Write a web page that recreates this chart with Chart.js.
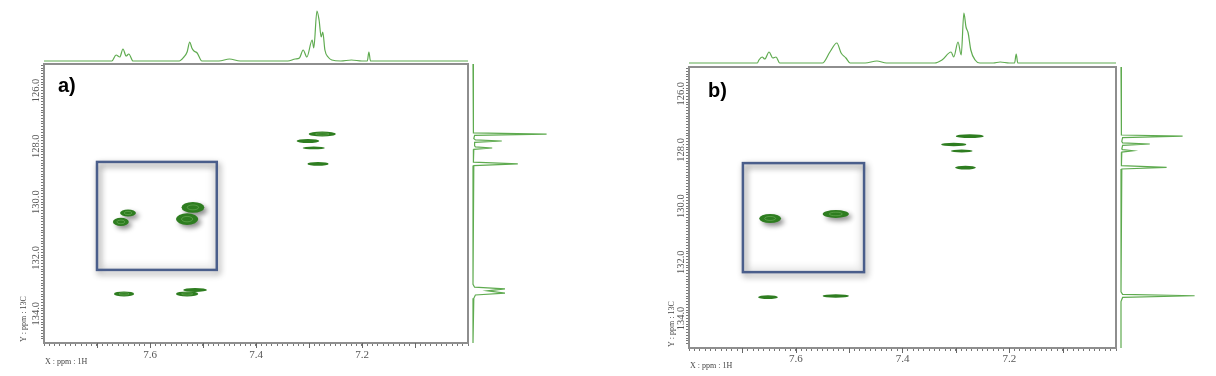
<!DOCTYPE html>
<html>
<head>
<meta charset="utf-8">
<title>HSQC a) b)</title>
<script src="https://cdn.jsdelivr.net/npm/chart.js@4.4.0/dist/chart.umd.min.js"></script>
<style>
    html, body { margin: 0; padding: 0; background: #fff; }
    #wrap { position: relative; width: 1216px; height: 376px; overflow: hidden; }
    #wrap canvas { position: absolute; left: 0; top: 0; }
</style>
</head>
<body>
<div id="wrap">
    <canvas id="mainA" width="1216" height="376"></canvas>
    <canvas id="topA" width="1216" height="376"></canvas>
    <canvas id="rightA" width="1216" height="376"></canvas>
    <canvas id="mainB" width="1216" height="376"></canvas>
    <canvas id="topB" width="1216" height="376"></canvas>
    <canvas id="rightB" width="1216" height="376"></canvas>
</div>
<script>
/* 2D HSQC (1H x 13C) spectra, panels a) and b) */

var xLabelValues = [7.6, 7.4, 7.2];
var yLabelValues = [126, 128, 130, 132, 134];

// panel a cross peaks: 1H ppm, 13C ppm, linewidths (ppm)
var peaksA_H  = [7.6415, 7.655, 7.519, 7.530, 7.649, 7.515, 7.530, 7.275, 7.302, 7.291, 7.283];
var peaksA_C  = [130.39, 130.71, 130.19, 130.61, 133.29, 133.15, 133.29, 127.56, 127.81, 128.06, 128.63];
var peaksA_dH = [0.030, 0.030, 0.043, 0.042, 0.038, 0.045, 0.042, 0.051, 0.043, 0.042, 0.040];
var peaksA_dC = [0.25, 0.29, 0.39, 0.43, 0.18, 0.14, 0.18, 0.18, 0.15, 0.10, 0.13];

// panel b cross peaks
var peaksB_H  = [7.648, 7.525, 7.652, 7.525, 7.274, 7.304, 7.289, 7.282];
var peaksB_C  = [130.44, 130.28, 133.24, 133.20, 127.51, 127.81, 128.04, 128.63];
var peaksB_dH = [0.041, 0.049, 0.037, 0.049, 0.052, 0.047, 0.041, 0.039];
var peaksB_dC = [0.32, 0.28, 0.14, 0.12, 0.14, 0.12, 0.11, 0.14];

// 1H projection (top), relative intensity
var topA_ppm = [7.80, 7.70, 7.672, 7.664, 7.657, 7.651, 7.645, 7.640, 7.632, 7.60, 7.545, 7.536, 7.530, 7.525, 7.521, 7.517, 7.511, 7.502, 7.47, 7.45, 7.43, 7.34, 7.326, 7.318, 7.311, 7.304, 7.294, 7.291, 7.285, 7.281, 7.277, 7.274, 7.270, 7.264, 7.257, 7.24, 7.22, 7.20, 7.190, 7.187, 7.184, 7.0];
var topA_int = [0, 0, 0, 12, 8, 24, 10, 14, 0, 0, 0, 8, 18, 38, 26, 20, 16, 0, 0, 4, 0, 0, 4, 6, 22, 8, 42, 26, 100, 82, 48, 58, 22, 8, 2, 0, 2, 0, 0, 18, 0, 0];
var topB_ppm = [7.80, 7.672, 7.669, 7.663, 7.658, 7.650, 7.643, 7.637, 7.630, 7.55, 7.536, 7.523, 7.515, 7.506, 7.498, 7.47, 7.448, 7.43, 7.34, 7.326, 7.309, 7.304, 7.296, 7.290, 7.285, 7.281, 7.277, 7.272, 7.264, 7.255, 7.23, 7.217, 7.20, 7.190, 7.187, 7.184, 7.0];
var topB_int = [0, 0, 6, 12, 8, 22, 10, 12, 0, 0, 22, 40, 20, 10, 0, 0, 4, 0, 0, 6, 22, 12, 42, 16, 100, 72, 60, 26, 6, 0, 0, 2, 0, 0, 18, 0, 0];

// 13C projection (right), relative intensity
var rightA_ppm = [125.05, 127.45, 127.52, 127.56, 127.61, 127.72, 127.77, 127.81, 127.86, 127.98, 128.02, 128.06, 128.11, 128.30, 128.57, 128.63, 128.69, 128.90, 132.95, 133.05, 133.11, 133.18, 133.26, 133.33, 133.45, 135.05];
var rightA_int = [0, 0, 1, 92, 2, 1, 3, 36, 2, 2, 3, 24, 1, 0, 1, 56, 1, 0, 0, 2, 40, 18, 40, 3, 1, 0];
var rightB_ppm = [125.05, 127.40, 127.47, 127.51, 127.56, 127.70, 127.75, 127.79, 127.84, 127.97, 127.99, 128.03, 128.08, 128.30, 128.56, 128.62, 128.68, 128.90, 133.05, 133.14, 133.19, 133.25, 133.40, 135.05];
var rightB_int = [0, 0, 1, 77, 2, 1, 2, 36, 2, 1, 2, 15, 1, 0, 1, 57, 1, 0, 0, 2, 92, 2, 0, 0];

// highlighted region [H from, H to, C from, C to]
var boxA = [7.700, 7.474, 128.56, 132.43];
var boxB = [7.699, 7.472, 128.47, 132.35];

var X_MIN = 7.0, X_MAX = 7.8, Y_MIN = 125.05, Y_MAX = 135.05;
var GREEN = "#2e7d20";
var LINE_GREEN = "#5fab50";
var SERIF = '"Liberation Serif", "Times New Roman", serif';

var xMinor = [], yMinor = [];
for (var i = 0; i <= 80; i++) xMinor.push(+(X_MIN + i * 0.01).toFixed(2));
for (var j = 1; j <= 99; j++) yMinor.push(+(125 + j * 0.1).toFixed(1));

function isIn(v, list) {
    for (var k = 0; k < list.length; k++) {
        if (Math.abs(v - list[k]) < 1e-6) return true;
    }
    return false;
}

function zipPeaks(h, c, dh, dc) {
    return h.map(function (v, k) { return { x: v, y: c[k], w: dh[k], h: dc[k] }; });
}

function zipXY(xs, ys) {
    return xs.map(function (v, k) { return { x: v, y: ys[k] }; });
}

function drawPeak(ctx, cx, cy, rx, ry, shadow) {
    ctx.save();
    if (shadow) {
        ctx.shadowColor = "rgba(0,0,0,0.45)";
        ctx.shadowBlur = 5;
        ctx.shadowOffsetX = 3;
        ctx.shadowOffsetY = 3;
    }
    ctx.beginPath();
    ctx.ellipse(cx, cy, rx, ry, 0, 0, Math.PI * 2);
    ctx.fillStyle = GREEN;
    ctx.fill();
    ctx.restore();
    // inner contour
    if (ry > 2.5) {
        ctx.save();
        ctx.strokeStyle = "rgba(150,205,130,0.45)";
        ctx.lineWidth = 0.8;
        ctx.beginPath();
        ctx.ellipse(cx, cy, rx * 0.5, ry * 0.45, 0, 0, Math.PI * 2);
        ctx.stroke();
        ctx.restore();
    }
}

var decorPlugin = {
    id: "decor",
    beforeDatasetsDraw: function (chart, args, o) {
        var xs = chart.scales.x, ys = chart.scales.y, ctx = chart.ctx;
        var x1 = xs.getPixelForValue(o.box[0]), x2 = xs.getPixelForValue(o.box[1]);
        var y1 = ys.getPixelForValue(o.box[2]), y2 = ys.getPixelForValue(o.box[3]);
        ctx.save();
        // soft inset shade
        ctx.filter = "blur(3px)";
        ctx.strokeStyle = "rgba(0,0,0,0.10)";
        ctx.lineWidth = 4;
        ctx.strokeRect(x1 + 3, y1 + 3, x2 - x1 - 6, y2 - y1 - 6);
        ctx.restore();
        ctx.save();
        ctx.shadowColor = "rgba(0,0,0,0.45)";
        ctx.shadowBlur = 6;
        ctx.shadowOffsetX = 2;
        ctx.shadowOffsetY = 3;
        ctx.strokeStyle = "#4a5e8b";
        ctx.lineWidth = 2.5;
        ctx.strokeRect(x1, y1, x2 - x1, y2 - y1);
        ctx.restore();
    },
    afterDatasetsDraw: function (chart, args, o) {
        var xs = chart.scales.x, ys = chart.scales.y, ctx = chart.ctx;
        chart.data.datasets[0].data.forEach(function (p) {
            var cx = xs.getPixelForValue(p.x), cy = ys.getPixelForValue(p.y);
            var rx = Math.abs(xs.getPixelForValue(p.x + p.w / 2) - cx);
            var ry = Math.abs(ys.getPixelForValue(p.y + p.h / 2) - cy);
            var inBox = p.x < o.box[0] && p.x > o.box[1] && p.y > o.box[2] && p.y < o.box[3];
            drawPeak(ctx, cx, cy, rx, ry, inBox);
        });
    },
    afterDraw: function (chart, args, o) {
        var xs = chart.scales.x, ys = chart.scales.y, ctx = chart.ctx;
        var a = chart.chartArea;
        ctx.save();
        // frame
        ctx.strokeStyle = "#8e8e8e";
        ctx.lineWidth = 2;
        ctx.strokeRect(a.left, a.top, a.right - a.left, a.bottom - a.top);
        // longer ticks on x every 0.1 ppm
        ctx.strokeStyle = "#666";
        ctx.lineWidth = 1;
        for (var k = 1; k < 8; k++) {
            var px = Math.round(xs.getPixelForValue(7 + k * 0.1)) + 0.5;
            ctx.beginPath();
            ctx.moveTo(px, a.bottom);
            ctx.lineTo(px, a.bottom + 5);
            ctx.stroke();
        }
        // y tick labels, rotated
        ctx.fillStyle = "#555";
        ctx.font = "10.5px " + SERIF;
        ctx.textAlign = "center";
        ctx.textBaseline = "middle";
        yLabelValues.forEach(function (v) {
            ctx.save();
            ctx.translate(a.left - 8, ys.getPixelForValue(v));
            ctx.rotate(-Math.PI / 2);
            ctx.fillText(v.toFixed(1), 0, 0);
            ctx.restore();
        });
        // axis titles
        ctx.fillStyle = "#444";
        ctx.font = "8px " + SERIF;
        ctx.textAlign = "left";
        ctx.fillText("X : ppm : 1H", a.left + 1, a.bottom + o.xTitleDy);
        ctx.save();
        ctx.translate(a.left - o.yTitleDx, a.bottom - 1);
        ctx.rotate(-Math.PI / 2);
        ctx.fillText("Y : ppm : 13C", 0, 0);
        ctx.restore();
        // panel label
        ctx.fillStyle = "#000";
        ctx.font = 'bold 20px "Liberation Sans", Arial, sans-serif';
        ctx.textBaseline = "alphabetic";
        ctx.fillText(o.label, a.left + o.labelDx, a.top + o.labelDy);
        ctx.restore();
    }
};

function makeMain(id, peaks, pad, axisH, tickPad, decor) {
    return new Chart(document.getElementById(id), {
        type: "scatter",
        data: {
            datasets: [{ data: peaks, pointRadius: 0, pointHoverRadius: 0 }]
        },
        options: {
            responsive: false,
            animation: false,
            events: [],
            layout: { padding: pad },
            plugins: { legend: { display: false }, tooltip: { enabled: false }, decor: decor },
            scales: {
                x: {
                    type: "linear", min: X_MIN, max: X_MAX, reverse: true,
                    afterBuildTicks: function (s) { s.ticks = xMinor.map(function (v) { return { value: v }; }); },
                    afterFit: function (s) { s.height = axisH; },
                    grid: { drawOnChartArea: false, drawTicks: true, tickLength: 3, tickColor: "#777", tickWidth: 1 },
                    border: { display: false },
                    ticks: {
                        autoSkip: false, maxRotation: 0, minRotation: 0, padding: tickPad, color: "#555",
                        font: { family: SERIF, size: 11 },
                        callback: function (v) { return isIn(v, xLabelValues) ? v.toFixed(1) : ""; }
                    }
                },
                y: {
                    type: "linear", min: Y_MIN, max: Y_MAX, reverse: true,
                    afterBuildTicks: function (s) { s.ticks = yMinor.map(function (v) { return { value: v }; }); },
                    afterFit: function (s) { s.width = 44; },
                    grid: { drawOnChartArea: false, drawTicks: true, tickLength: 3, tickColor: "#777", tickWidth: 1 },
                    border: { display: false },
                    ticks: { autoSkip: false, padding: 0, font: { size: 6 }, callback: function () { return ""; } }
                }
            }
        },
        plugins: [decorPlugin]
    });
}

function makeTop(id, pts, pad) {
    return new Chart(document.getElementById(id), {
        type: "line",
        data: {
            datasets: [{
                data: pts, borderColor: LINE_GREEN, borderWidth: 1.2, pointRadius: 0,
                cubicInterpolationMode: "monotone", fill: false, clip: false
            }]
        },
        options: {
            responsive: false, animation: false, events: [],
            layout: { padding: pad },
            plugins: { legend: { display: false }, tooltip: { enabled: false } },
            scales: {
                x: { type: "linear", min: X_MIN, max: X_MAX, reverse: true, display: false },
                y: { type: "linear", min: 0, max: 100, display: false }
            }
        }
    });
}

function makeRight(id, pts, pad) {
    return new Chart(document.getElementById(id), {
        type: "line",
        data: {
            datasets: [{
                data: pts, borderColor: LINE_GREEN, borderWidth: 1.2, pointRadius: 0,
                tension: 0, fill: false, clip: false
            }]
        },
        options: {
            indexAxis: "y",
            responsive: false, animation: false, events: [],
            layout: { padding: pad },
            plugins: { legend: { display: false }, tooltip: { enabled: false } },
            scales: {
                x: { type: "linear", min: 0, max: 100, display: false },
                y: { type: "linear", min: Y_MIN, max: Y_MAX, reverse: true, display: false }
            }
        }
    });
}

/* panel a */
makeMain("mainA", zipPeaks(peaksA_H, peaksA_C, peaksA_dH, peaksA_dC),
    { left: 0, top: 64, right: 748, bottom: 0 }, 33, 3,
    { box: boxA, label: "a)", labelDx: 14, labelDy: 27.5, xTitleDy: 19, yTitleDx: 20 });
makeTop("topA", zipXY(topA_ppm, topA_int), { left: 44, top: 11, right: 748, bottom: 315 });
makeRight("rightA", zipXY(rightA_int, rightA_ppm), { left: 473, top: 64, right: 663, bottom: 33 });

/* panel b */
makeMain("mainB", zipPeaks(peaksB_H, peaksB_C, peaksB_dH, peaksB_dC),
    { left: 645, top: 67, right: 100, bottom: 0 }, 28, 2,
    { box: boxB, label: "b)", labelDx: 19, labelDy: 29.5, xTitleDy: 18, yTitleDx: 17 });
makeTop("topB", zipXY(topB_ppm, topB_int), { left: 689, top: 13, right: 100, bottom: 313 });
makeRight("rightB", zipXY(rightB_int, rightB_ppm), { left: 1121, top: 67, right: 15, bottom: 28 });
</script>
</body>
</html>
